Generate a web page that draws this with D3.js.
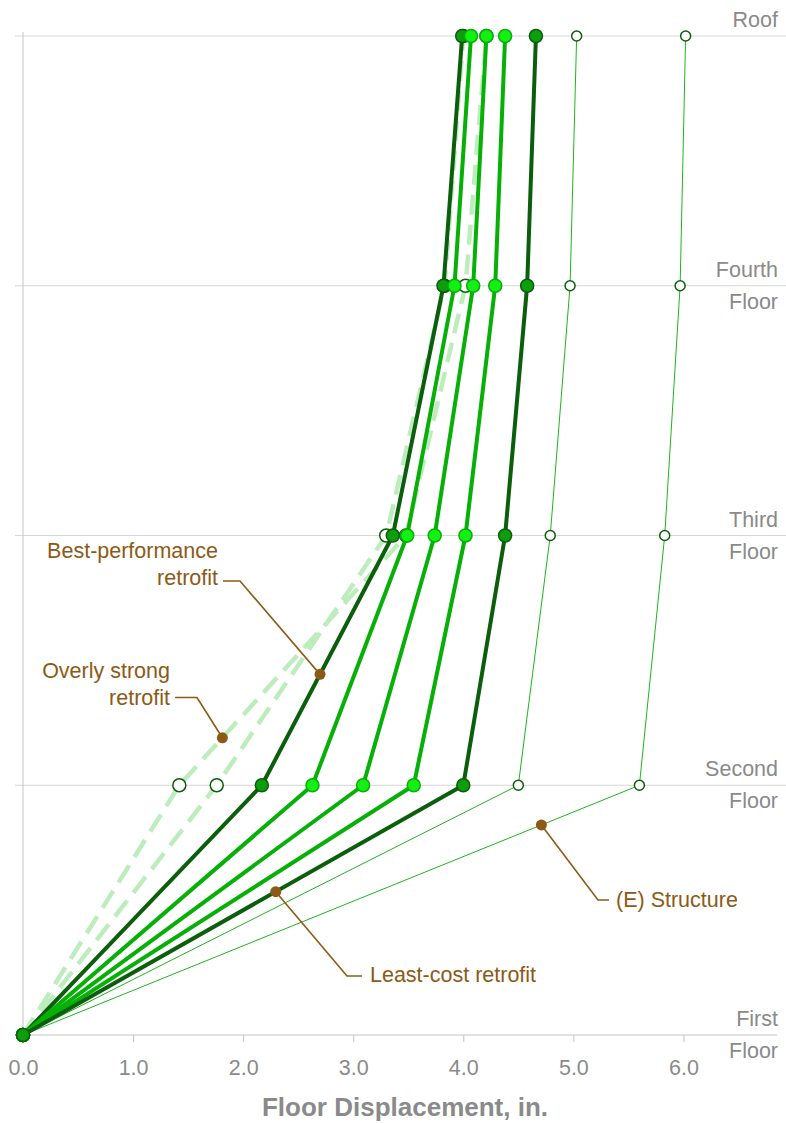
<!DOCTYPE html>
<html>
<head>
<meta charset="utf-8">
<script src="https://cdn.jsdelivr.net/npm/d3@7"></script>
<style>
  html, body { margin: 0; padding: 0; background: #fff; }
  svg { display: block; font-family: "Liberation Sans", Arial, sans-serif; }
</style>
</head>
<body>
<svg id="chart" width="786" height="1124"></svg>
<script>
// Floors from ground up, with the two-line labels shown at the right edge
const floors = ["First Floor", "Second Floor", "Third Floor", "Fourth Floor", "Roof"];
const floorLabels = [["First", "Floor"], ["Second", "Floor"], ["Third", "Floor"], ["Fourth", "Floor"], ["Roof"]];

// X axis ticks (inches)
const xTicks = [0, 1, 2, 3, 4, 5, 6];

// Floor displacement profiles (in.), First Floor -> Roof
const overlyStrongA = [0, 1.42, 3.48, 4.02, 4.21];
const overlyStrongB = [0, 1.76, 3.30, 3.83, 4.00];
const existingStructure1 = [0, 4.50, 4.79, 4.97, 5.03];
const existingStructure2 = [0, 5.60, 5.83, 5.97, 6.02];
const bestPerformance = [0, 2.17, 3.36, 3.82, 3.99];
const retrofit2 = [0, 2.63, 3.49, 3.92, 4.07];
const retrofit3 = [0, 3.09, 3.74, 4.09, 4.21];
const retrofit4 = [0, 3.55, 4.02, 4.29, 4.38];
const leastCost = [0, 4.00, 4.38, 4.58, 4.66];

// Draw order and styling of each profile
const series = [
  { values: overlyStrongA, kind: "dashed" },
  { values: overlyStrongB, kind: "dashed" },
  { values: existingStructure1, kind: "thin" },
  { values: existingStructure2, kind: "thin" },
  { values: bestPerformance, kind: "dark" },
  { values: retrofit2, kind: "bright" },
  { values: retrofit3, kind: "bright" },
  { values: retrofit4, kind: "bright" },
  { values: leastCost, kind: "dark" }
];

const styles = {
  dashed: { line: "#bdedbd", width: 4.5, dash: "20,10", fill: "#ffffff", stroke: "#0b5e0b", r: 6.5, sw: 1.5 },
  thin:   { line: "#1fb41f", width: 1, dash: null, fill: "#ffffff", stroke: "#0b5e0b", r: 5, sw: 1.5 },
  dark:   { line: "#0b5e0b", width: 4, dash: null, fill: "#0d9e0d", stroke: "#0b5e0b", r: 6.5, sw: 1.5 },
  bright: { line: "#06b006", width: 4, dash: null, fill: "#14f014", stroke: "#06b006", r: 6.5, sw: 1.5 }
};

// Callouts: which profile, which storey segment, and where along it
const callouts = [
  { lines: ["Best-performance", "retrofit"], values: bestPerformance, seg: 1, t: 0.444 },
  { lines: ["Overly strong", "retrofit"], values: overlyStrongA, seg: 1, t: 0.19 },
  { lines: ["Least-cost retrofit"], values: leastCost, seg: 0, t: 0.574 },
  { lines: ["(E) Structure"], values: existingStructure2, seg: 0, t: 0.841 }
];

const svg = d3.select("#chart");
const x = d3.scaleLinear().domain([0, 6.85]).range([23, 777]);
const y = d3.scalePoint().domain(floors).range([1035, 36]);

const grey = "#8a8a8a";
const brown = "#8c5a16";

// Horizontal floor lines
svg.append("g").selectAll("line").data(floors.slice(1)).join("line")
  .attr("x1", 15).attr("x2", 786)
  .attr("y1", d => y(d)).attr("y2", d => y(d))
  .attr("stroke", "#d6d6d6").attr("stroke-width", 1);

// Vertical axis line
svg.append("line")
  .attr("x1", x(0)).attr("x2", x(0))
  .attr("y1", y("Roof") - 4).attr("y2", y("First Floor"))
  .attr("stroke", "#c4c4c4").attr("stroke-width", 1);

// X axis
const xAxis = d3.axisBottom(x).tickValues(xTicks).tickFormat(d3.format(".1f")).tickSize(7).tickPadding(18);
const gx = svg.append("g").attr("transform", `translate(0,${y("First Floor")})`).call(xAxis);
gx.select(".domain").attr("stroke", "#c4c4c4").attr("d", `M${x(0)},0H${x.range()[1]}`);
gx.selectAll(".tick line").attr("stroke", "#c4c4c4");
gx.selectAll(".tick").filter(d => d === 0).select("line").remove();
gx.selectAll(".tick text")
  .attr("fill", grey).attr("font-size", 21.5)
  .attr("font-family", "Liberation Sans, Arial, sans-serif")
  .attr("dy", "0.71em");

// Axis title
svg.append("text")
  .attr("x", 405).attr("y", 1116)
  .attr("text-anchor", "middle")
  .attr("font-size", 26).attr("font-weight", "bold")
  .attr("fill", grey)
  .text("Floor Displacement, in.");

// Floor labels at the right edge
floors.forEach((f, i) => {
  const lab = floorLabels[i];
  const gy = y(f);
  svg.append("text").attr("x", 778).attr("y", gy - 9)
    .attr("text-anchor", "end").attr("font-size", 21.5).attr("fill", grey).text(lab[0]);
  if (lab[1]) {
    svg.append("text").attr("x", 778).attr("y", gy + 23)
      .attr("text-anchor", "end").attr("font-size", 21.5).attr("fill", grey).text(lab[1]);
  }
});

// Profiles
const line = d3.line().x(d => x(d.v)).y(d => y(d.f));
series.forEach(s => {
  const st = styles[s.kind];
  const pts = s.values.map((v, i) => ({ v, f: floors[i] }));
  const g = svg.append("g");
  g.append("path").datum(pts)
    .attr("d", line)
    .attr("fill", "none")
    .attr("stroke", st.line)
    .attr("stroke-width", st.width)
    .attr("stroke-dasharray", st.dash)
    .attr("stroke-linejoin", "round");
  g.selectAll("circle").data(pts).join("circle")
    .attr("cx", d => x(d.v)).attr("cy", d => y(d.f))
    .attr("r", st.r)
    .attr("fill", st.fill)
    .attr("stroke", st.stroke)
    .attr("stroke-width", st.sw);
});

// Callout text positions and leader elbows
const calloutLayout = [
  { tx: 218, ty: 558, anchor: "end", lead: [[223, 581], [240, 581]] },
  { tx: 170, ty: 678, anchor: "end", lead: [[175, 697.5], [197, 697.5]] },
  { tx: 370, ty: 982, anchor: "start", lead: [[362, 976], [347, 976]] },
  { tx: 616, ty: 907, anchor: "start", lead: [[609, 900], [598, 900]] }
];

callouts.forEach((c, i) => {
  const L = calloutLayout[i];
  const v0 = c.values[c.seg], v1 = c.values[c.seg + 1];
  const px = x(v0) + c.t * (x(v1) - x(v0));
  const py = y(floors[c.seg]) + c.t * (y(floors[c.seg + 1]) - y(floors[c.seg]));
  const pts = L.lead.concat([[px, py]]);
  svg.append("path")
    .attr("d", d3.line()(pts))
    .attr("fill", "none").attr("stroke", brown).attr("stroke-width", 1.6);
  svg.append("circle").attr("cx", px).attr("cy", py).attr("r", 5.5).attr("fill", brown);
  const t = svg.append("text")
    .attr("text-anchor", L.anchor).attr("font-size", 21.5).attr("fill", brown);
  c.lines.forEach((s, k) => {
    t.append("tspan").attr("x", L.tx).attr("y", L.ty + k * 27).text(s);
  });
});
</script>
</body>
</html>
